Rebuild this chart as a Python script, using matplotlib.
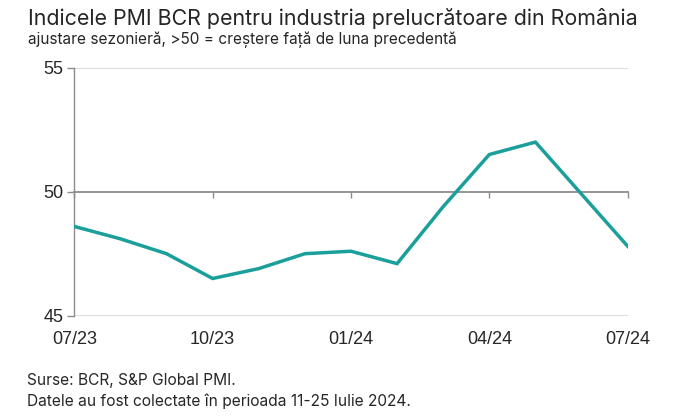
import matplotlib
matplotlib.use("Agg")
import matplotlib.pyplot as plt

months = ["07/23", "08/23", "09/23", "10/23", "11/23", "12/23", "01/24",
          "02/24", "03/24", "04/24", "05/24", "06/24", "07/24"]
pmi = [48.6, 48.1, 47.5, 46.5, 46.9, 47.5, 47.6, 47.1, 49.4, 51.5, 52.0, 49.9, 47.8]
xtick_labels = ["07/23", "10/23", "01/24", "04/24", "07/24"]
ytick_values = [45, 50, 55]

LINE = "#1a9f9b"
TXT = "#262626"
fig = plt.figure(figsize=(7, 4.2), dpi=100)
ax = fig.add_axes([0.1061, 0.2483, 0.7906, 0.5905])

x = list(range(len(months)))
ax.plot(x, pmi, color=LINE, lw=2.5, solid_joinstyle="miter", zorder=3)

ax.set_xlim(0, len(months) - 1)
ax.set_ylim(45, 55)

for s in ["top", "right"]:
    ax.spines[s].set_visible(False)
ax.spines["left"].set_color("#8c8c8c")
ax.spines["left"].set_linewidth(1.0)
ax.spines["bottom"].set_position(("data", 50))
ax.spines["bottom"].set_color("#8c8c8c")
ax.spines["bottom"].set_linewidth(1.3)
ax.spines["bottom"].set_zorder(2)

for yv in [45, 55]:
    ax.axhline(yv, color="#d9d9d9", lw=1.3, zorder=1)

ax.set_yticks(ytick_values)
ax.set_yticklabels([str(v) for v in ytick_values], fontsize=13,
                   family="Liberation Sans", color=TXT)
ax.tick_params(axis="y", direction="out", length=5, width=1, color="#8c8c8c", pad=3)

tick_pos = [months.index(m) for m in xtick_labels]
ax.set_xticks(tick_pos)
ax.tick_params(axis="x", direction="out", length=4, width=1, color="#8c8c8c",
               labelbottom=False)

sec = ax.secondary_xaxis("bottom")
sec.set_xticks(tick_pos)
sec.set_xticklabels(xtick_labels, fontsize=13, family="Liberation Sans", color=TXT)
sec.tick_params(length=0, pad=11)
sec.spines["bottom"].set_visible(False)

fig.text(0.04, 0.955, "Indicele PMI BCR pentru industria prelucrătoare din România",
         fontsize=15.4, family="Inter", color=TXT, va="center", ha="left")
fig.text(0.04, 0.905, "ajustare sezonieră, >50 = creștere față de luna precedentă",
         fontsize=11.1, family="Inter", color=TXT, va="center", ha="left")
fig.text(0.039, 0.093, "Surse: BCR, S&P Global PMI.",
         fontsize=11.15, family="Inter", color=TXT, va="center", ha="left")
fig.text(0.039, 0.045, "Datele au fost colectate în perioada 11-25 Iulie 2024.",
         fontsize=11.15, family="Inter", color=TXT, va="center", ha="left")

fig.savefig("out.png", dpi=100, facecolor="white")
